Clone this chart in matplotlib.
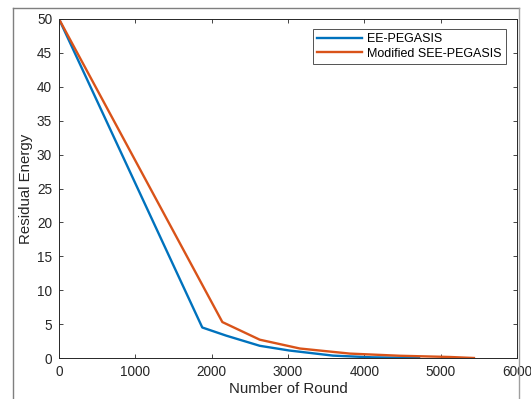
import matplotlib
matplotlib.use("Agg")
import matplotlib.pyplot as plt
from matplotlib.lines import Line2D

plt.rcParams['font.family'] = ['Liberation Sans', 'DejaVu Sans']

# residual energy
ee_rounds = [0, 1877, 2190, 2630, 3020, 3590, 4100, 4717]
ee_energy = [50, 4.5, 3.3, 1.8, 1.1, 0.35, 0.1, 0.0]

see_rounds = [0, 2140, 2630, 3155, 3810, 4465, 5120, 5436]
see_energy = [50, 5.3, 2.7, 1.4, 0.65, 0.33, 0.15, 0.0]

x_ticks = [0, 1000, 2000, 3000, 4000, 5000, 6000]
y_ticks = [0, 5, 10, 15, 20, 25, 30, 35, 40, 45, 50]

blue = (0, 0.447, 0.741)
orange = (0.85, 0.325, 0.098)

W, H = 531, 399
fig = plt.figure(figsize=(W / 100, H / 100), dpi=100)
ax = fig.add_axes([59 / W, 1 - 358 / H, (517 - 59) / W, (358 - 19) / H])

ax.plot(ee_rounds, ee_energy, color=blue, lw=1.7, label='EE-PEGASIS')
ax.plot(see_rounds, see_energy, color=orange, lw=1.7, label='Modified SEE-PEGASIS')

ax.set_xlim(0, 6000)
ax.set_ylim(0, 50)
ax.set_xticks(x_ticks)
ax.set_yticks(y_ticks)
ax.tick_params(direction='in', top=True, right=True, labelsize=9.8,
               length=3, width=0.6, colors='#262626', pad=5)
for s in ax.spines.values():
    s.set_linewidth(0.7)
    s.set_color('#262626')

ax.set_xlabel('Number of Round', fontsize=10.8, color='#262626', labelpad=2)
ax.set_ylabel('Residual Energy', fontsize=10.8, color='#262626', labelpad=3)

leg = ax.legend(loc='upper right', fontsize=9, frameon=True, fancybox=False,
                edgecolor='#262626', handlelength=3.6, borderpad=0.35,
                labelspacing=0.2, handletextpad=0.35, borderaxespad=0,
                bbox_to_anchor=(0.975, 0.971))
leg.get_frame().set_linewidth(0.7)

# screenshot frame
fig.add_artist(Line2D([13 / W, 13 / W], [0, 1 - 8 / H], color='#7f7f7f', lw=1.0))
fig.add_artist(Line2D([13 / W, 519 / W], [1 - 8 / H, 1 - 8 / H], color='#7f7f7f', lw=1.0))
fig.add_artist(Line2D([519 / W, 519 / W], [0, 1 - 8 / H], color='#9f9f9f', lw=1.0))

fig.savefig('out.png', dpi=100)
